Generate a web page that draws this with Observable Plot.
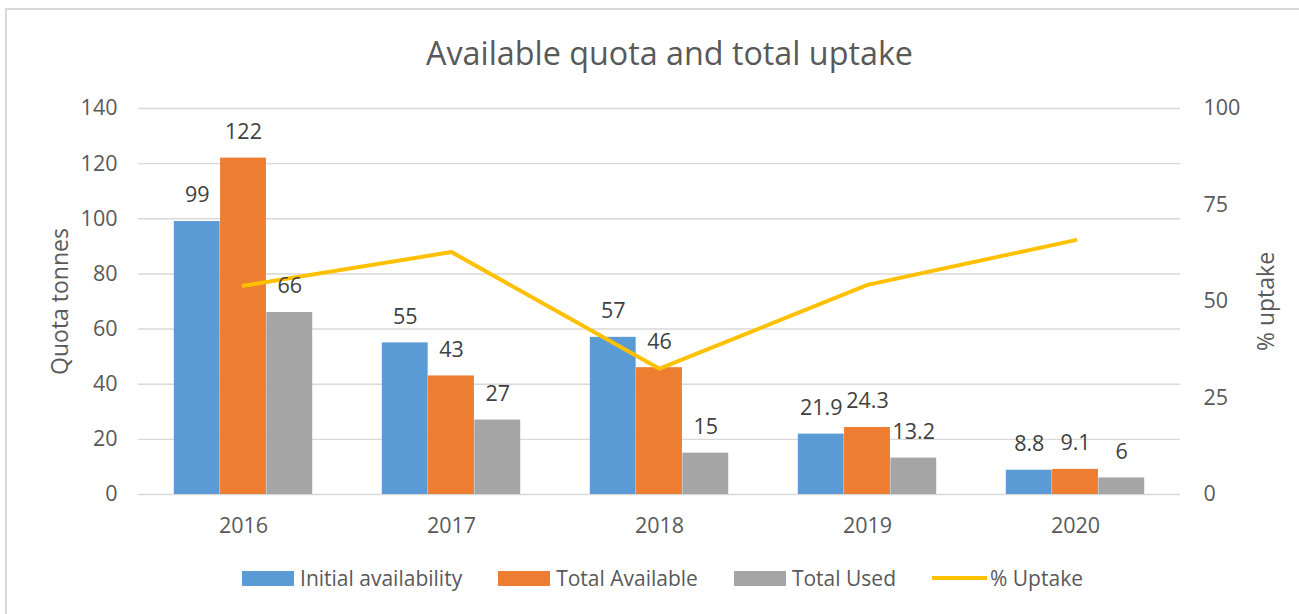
<!DOCTYPE html>
<html>
<head>
<meta charset="utf-8">
<script src="https://cdn.jsdelivr.net/npm/d3@7"></script>
<script src="https://cdn.jsdelivr.net/npm/@observablehq/plot@0.6"></script>
<style>
  html, body { margin: 0; padding: 0; background: #fff; overflow: hidden; }
  #wrap { position: relative; width: 1299px; height: 614px; font-family: "Open Sans", sans-serif; }
  #frame { position: absolute; left: 5px; top: 8px; width: 1320px; height: 640px; border: 2px solid #d9d9d9; box-sizing: border-box; }
  #title { position: absolute; left: 20px; top: 0; width: 1299px; height: 85px; line-height: 104px; text-align: center; font-size: 32.3px; color: #595959; }
  #chart { position: absolute; left: 0; top: 85px; }
  #legend { position: absolute; left: 0; top: 550px; width: 1299px; height: 56px; display: flex; justify-content: center; align-items: center; padding-left: 26px; box-sizing: border-box; font-size: 21px; color: #595959; }
  .item { display: flex; align-items: center; margin: 0 18px; }
  .sw { width: 52px; height: 15px; margin-right: 6px; }
  .ln { width: 55px; height: 4px; margin-right: 3px; }
</style>
</head>
<body>
<div id="wrap">
  <div id="frame"></div>
  <div id="title">Available quota and total uptake</div>
  <div id="chart"></div>
  <div id="legend"></div>
</div>
<script>
const years = ["2016", "2017", "2018", "2019", "2020"];
const initialAvailability = [99, 55, 57, 21.9, 8.8];
const totalAvailable = [122, 43, 46, 24.3, 9.1];
const totalUsed = [66, 27, 15, 13.2, 6];
const pctUptake = [54.1, 62.8, 32.6, 54.3, 65.9];
const leftTicks = [0, 20, 40, 60, 80, 100, 120, 140];
const rightTicks = [0, 25, 50, 75, 100];
const seriesNames = ["Initial availability", "Total Available", "Total Used", "% Uptake"];
const colors = ["#5B9BD5", "#ED7D31", "#A5A5A5", "#FFC000"];

const W = 1299, H = 465, ML = 138, MR = 119, MT = 23, MB = 56;
const leftMax = 140, rightMax = 100;
const k = leftMax / rightMax;
const FS = 21.5;

const bw = (W - ML - MR) / years.length;
const barW = bw * 0.222;
const gap = (bw - 3 * barW) / 2;

const seriesVals = [initialAvailability, totalAvailable, totalUsed];
const rows = seriesVals.map(vals => years.map((y, i) => ({year: y, value: vals[i]})));
const lineRows = years.map((y, i) => ({year: y, pct: pctUptake[i]}));

const barMarks = rows.map((r, s) => Plot.barY(r, {
  x: "year", y: "value", fill: colors[s],
  insetLeft: gap + s * barW, insetRight: bw - gap - (s + 1) * barW
}));
const labelMarks = rows.map((r, s) => Plot.text(r, {
  x: "year", y: "value", text: d => String(d.value),
  dx: (s - 1) * barW, dy: -26, fontSize: FS, fill: "#404040"
}));

const chart = Plot.plot({
  width: W, height: H,
  marginLeft: ML, marginRight: MR, marginTop: MT, marginBottom: MB,
  style: {fontFamily: "'Open Sans', sans-serif", fontSize: FS + "px", color: "#595959", background: "transparent", overflow: "visible"},
  x: {type: "band", domain: years, padding: 0},
  y: {domain: [0, leftMax]},
  marks: [
    Plot.gridY(leftTicks, {stroke: "#d9d9d9", strokeOpacity: 1, strokeWidth: 1.4}),
    ...barMarks,
    Plot.line(lineRows, {x: "year", y: d => d.pct * k, stroke: colors[3], strokeWidth: 4, strokeLinejoin: "miter"}),
    ...labelMarks,
    Plot.axisY({anchor: "left", ticks: leftTicks, tickSize: 0, tickPadding: 21, label: null, fontSize: FS}),
    Plot.axisY({anchor: "right", ticks: rightTicks.map(t => t * k), tickFormat: t => String(Math.round(t / k)), tickSize: 0, tickPadding: 23, label: null, fontSize: FS}),
    Plot.axisX({anchor: "bottom", tickSize: 0, tickPadding: 23, label: null, fontSize: FS}),
    Plot.text(["Quota tonnes"], {frameAnchor: "left", textAnchor: "middle", dx: -78, rotate: -90, fontSize: 23, fill: "#595959"}),
    Plot.text(["% uptake"], {frameAnchor: "right", textAnchor: "middle", dx: 86, rotate: -90, fontSize: 23, fill: "#595959"})
  ]
});
document.getElementById("chart").appendChild(chart);

const legend = document.getElementById("legend");
seriesNames.forEach((name, i) => {
  const item = document.createElement("div");
  item.className = "item";
  const sw = document.createElement("div");
  sw.className = i < 3 ? "sw" : "ln";
  sw.style.background = colors[i];
  const tx = document.createElement("span");
  tx.textContent = name;
  item.appendChild(sw);
  item.appendChild(tx);
  legend.appendChild(item);
});
</script>
</body>
</html>
